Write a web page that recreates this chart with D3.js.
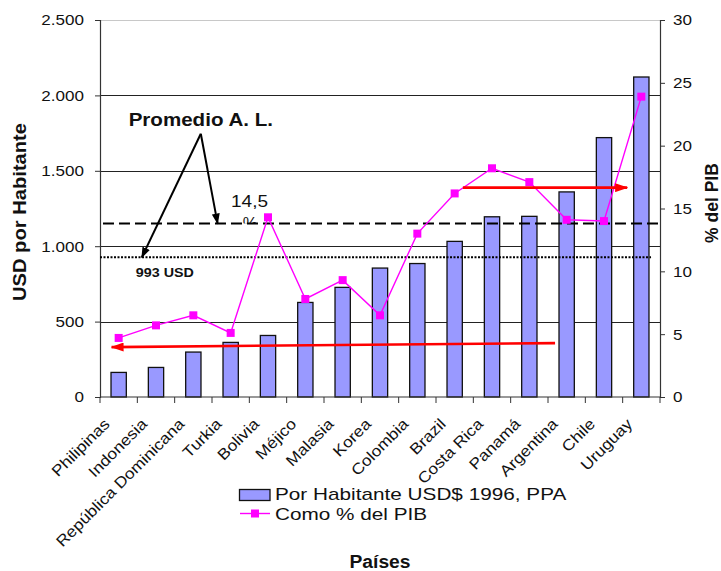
<!DOCTYPE html>
<html>
<head>
<meta charset="utf-8">
<script src="https://cdn.jsdelivr.net/npm/d3@7"></script>
<style>
html,body{margin:0;padding:0;background:#fff;}
svg{display:block;font-family:"Liberation Sans",Arial,sans-serif;}
</style>
</head>
<body>
<svg id="chart" width="721" height="571"></svg>
<script>
// ---------- data ----------
const countries = ["Philipinas","Indonesia","República Dominicana","Turkia","Bolivia","Méjico","Malasia","Korea","Colombia","Brazil","Costa Rica","Panamá","Argentina","Chile","Uruguay"];
const usdPerCapita = [163,196,298,362,408,627,727,855,885,1032,1195,1198,1360,1720,2122];
const pctPIB = [4.7,5.7,6.5,5.1,14.3,7.8,9.3,6.5,13.0,16.2,18.2,17.1,14.1,14.0,23.9];
const usdTicks = [0,500,1000,1500,2000,2500];
const pctTicks = [0,5,10,15,20,25,30];
const avgUsdLevel = 926;   // dotted line (left axis)
const avgPctLevel = 13.8;  // dashed line (right axis)
const seriesNames = ["Por Habitante USD$ 1996, PPA","Como % del PIB"];
const axisTitles = {left:"USD por Habitante", right:"% del PIB", bottom:"Países"};
// annotation anchors in (category units, axis value)
const promedioLabel = {text:"Promedio A. L.", u:2.7, usd:1794};
const promedioApex = {u:2.7, usd:1746};
const promedioTipUsd = {u:1.12};
const promedioTipPct = {u:3.15};
const pctLabel = {text:"14,5", u:3.51, pct:15.1};
const usdLabel = {text:"993 USD", u:0.96, usd:798};
const redArrowLow = {from:[12.19,4.29], to:[0.31,3.97]};
const redArrowHigh = {from:[9.72,16.66], to:[14.12,16.66]};

// ---------- layout ----------
const L = 100, R = 660, T = 20, B = 397;
const svg = d3.select("#chart");
const x = d3.scaleBand().domain(countries).range([L, R]).padding(0);
const xu = d3.scaleLinear().domain([0, countries.length]).range([L, R]);
const yL = d3.scaleLinear().domain([0, 2500]).range([B, T]);
const yR = d3.scaleLinear().domain([0, 30]).range([B, T]);
const fmt = d3.formatLocale({decimal:",", thousands:".", grouping:[3], currency:["",""]}).format(",");

function stretch(sel, k){
  sel.each(function(){
    const len = this.getComputedTextLength();
    this.setAttribute("textLength", len*k);
    this.setAttribute("lengthAdjust","spacingAndGlyphs");
  });
}

const defs = svg.append("defs");
defs.append("marker").attr("id","redHead").attr("markerUnits","userSpaceOnUse")
  .attr("markerWidth",13).attr("markerHeight",9).attr("refX",12).attr("refY",4.5).attr("orient","auto")
  .append("path").attr("d","M0,0 L13,4.5 L0,9 Z").attr("fill","#ff0000");
defs.append("marker").attr("id","blackHead").attr("markerUnits","userSpaceOnUse")
  .attr("markerWidth",11).attr("markerHeight",8).attr("refX",10).attr("refY",4).attr("orient","auto")
  .append("path").attr("d","M0,0 L11,4 L0,8 Z").attr("fill","#000");
defs.append("clipPath").attr("id","pctClip").append("rect")
  .attr("x", 0).attr("y", 0).attr("width", 721).attr("height", yR(avgPctLevel));

// gridlines
svg.append("g").selectAll("line").data(usdTicks.filter(d => d > 0))
  .join("line")
  .attr("x1", L).attr("x2", R)
  .attr("y1", d => Math.round(yL(d)) + 0.5).attr("y2", d => Math.round(yL(d)) + 0.5)
  .attr("stroke", d => d === 2500 ? "#c8c8c8" : "#222").attr("stroke-width", 1);

// bars
const bw = x.bandwidth()*0.41;
svg.append("g").selectAll("rect").data(countries)
  .join("rect")
  .attr("x", d => x(d) + (x.bandwidth()-bw)/2)
  .attr("width", bw)
  .attr("y", (d,i) => yL(usdPerCapita[i]))
  .attr("height", (d,i) => B - yL(usdPerCapita[i]))
  .attr("fill", "#9999ff").attr("stroke", "#111").attr("stroke-width", 1.3);

// axes
const gl = svg.append("g").attr("transform", `translate(${L},0)`)
  .call(d3.axisLeft(yL).tickValues(usdTicks).tickFormat(fmt).tickSize(5).tickPadding(11));
const gr = svg.append("g").attr("transform", `translate(${R},0)`)
  .call(d3.axisRight(yR).tickValues(pctTicks).tickSize(5).tickPadding(8));
[gl, gr].forEach(g => {
  g.select(".domain").attr("stroke", "#333").attr("stroke-width", 1.2);
  g.selectAll(".tick line").attr("stroke", "#333");
  g.selectAll("text").attr("font-size", 15.5).attr("fill", "#111")
    .attr("font-family", "'Liberation Sans',Arial,sans-serif").call(stretch, 1.1);
});

// bottom axis
const gb = svg.append("g");
gb.append("line").attr("x1", L).attr("x2", R).attr("y1", B).attr("y2", B)
  .attr("stroke", "#333").attr("stroke-width", 1.2);
gb.selectAll("line.t").data(d3.range(countries.length + 1)).join("line").attr("class","t")
  .attr("x1", d => xu(d)).attr("x2", d => xu(d)).attr("y1", B).attr("y2", B + 6)
  .attr("stroke", "#333");
gb.selectAll("g.lab").data(countries).join("g").attr("class","lab")
  .attr("transform", d => `translate(${x(d) + x.bandwidth()/2},${B})`)
  .append("text")
  .attr("transform", "translate(-8,28) rotate(-45)")
  .attr("text-anchor", "end").attr("font-size", 15.5).attr("fill", "#111")
  .text(d => d).call(stretch, 1.12);

// reference lines
svg.append("line")
  .attr("x1", xu(0.08)).attr("x2", xu(15.08))
  .attr("y1", yR(avgPctLevel)).attr("y2", yR(avgPctLevel))
  .attr("stroke", "#000").attr("stroke-width", 2).attr("stroke-dasharray", "11,5");
svg.append("line")
  .attr("x1", xu(0)).attr("x2", xu(14.76))
  .attr("y1", yL(avgUsdLevel)).attr("y2", yL(avgUsdLevel))
  .attr("stroke", "#000").attr("stroke-width", 2).attr("stroke-dasharray", "2,1.5");

// percent line
const cx = d => x(d) + x.bandwidth()/2;
svg.append("path").datum(countries)
  .attr("d", d3.line().x(d => cx(d)).y((d,i) => yR(pctPIB[i])))
  .attr("fill", "none").attr("stroke", "#ff00ff").attr("stroke-width", 1.4);
svg.append("g").selectAll("rect").data(countries).join("rect")
  .attr("x", d => cx(d) - 4).attr("y", (d,i) => yR(pctPIB[i]) - 4)
  .attr("width", 8).attr("height", 8).attr("fill", "#ff00ff");

// annotations
svg.append("text").attr("x", xu(promedioLabel.u)).attr("y", yL(promedioLabel.usd))
  .attr("text-anchor", "middle").attr("font-weight", "bold").attr("font-size", 18.7)
  .attr("fill", "#111").text(promedioLabel.text).call(stretch, 1.1);
svg.append("line")
  .attr("x1", xu(promedioApex.u)).attr("y1", yL(promedioApex.usd))
  .attr("x2", xu(promedioTipUsd.u)).attr("y2", yL(avgUsdLevel))
  .attr("stroke", "#000").attr("stroke-width", 2).attr("marker-end", "url(#blackHead)");
svg.append("line")
  .attr("x1", xu(promedioApex.u)).attr("y1", yL(promedioApex.usd))
  .attr("x2", xu(promedioTipPct.u)).attr("y2", yR(avgPctLevel))
  .attr("stroke", "#000").attr("stroke-width", 2).attr("marker-end", "url(#blackHead)");
svg.append("text").attr("x", xu(pctLabel.u)).attr("y", yR(pctLabel.pct))
  .attr("font-size", 16.5).attr("fill", "#111").text(pctLabel.text).call(stretch, 1.15);
svg.append("text").attr("x", xu(pctLabel.u) + 19).attr("y", yR(pctLabel.pct) + 22)
  .attr("text-anchor", "middle").attr("clip-path", "url(#pctClip)")
  .attr("font-size", 16.5).attr("fill", "#111").text("%");
svg.append("text").attr("x", xu(usdLabel.u)).attr("y", yL(usdLabel.usd))
  .attr("font-weight", "bold").attr("font-size", 13).attr("fill", "#111")
  .text(usdLabel.text).call(stretch, 1.1);

// red arrows
[redArrowLow, redArrowHigh].forEach(a => {
  svg.append("line")
    .attr("x1", xu(a.from[0])).attr("y1", yR(a.from[1]))
    .attr("x2", xu(a.to[0])).attr("y2", yR(a.to[1]))
    .attr("stroke", "#ff0000").attr("stroke-width", 2.6).attr("marker-end", "url(#redHead)");
});

// axis titles
svg.append("text").attr("transform", "translate(26,212) rotate(-90)")
  .attr("text-anchor", "middle").attr("font-weight", "bold").attr("font-size", 18)
  .attr("fill", "#111").text(axisTitles.left).call(stretch, 1.12);
svg.append("text").attr("transform", "translate(718,203) rotate(-90)")
  .attr("text-anchor", "middle").attr("font-weight", "bold").attr("font-size", 17.5)
  .attr("fill", "#111").text(axisTitles.right);
svg.append("text").attr("x", 380).attr("y", 568)
  .attr("text-anchor", "middle").attr("font-weight", "bold").attr("font-size", 17.5)
  .attr("fill", "#111").text(axisTitles.bottom).call(stretch, 1.1);

// legend
const lg = svg.append("g");
lg.append("rect").attr("x", 239.5).attr("y", 489.5).attr("width", 30.5).attr("height", 11)
  .attr("fill", "#9999ff").attr("stroke", "#111").attr("stroke-width", 1.3);
lg.append("text").attr("x", 275).attr("y", 500).attr("font-size", 17).attr("fill", "#111")
  .text(seriesNames[0]).call(stretch, 1.22);
lg.append("line").attr("x1", 240).attr("x2", 270).attr("y1", 513.5).attr("y2", 513.5)
  .attr("stroke", "#ff00ff").attr("stroke-width", 1.4);
lg.append("rect").attr("x", 251).attr("y", 509.5).attr("width", 8).attr("height", 8).attr("fill", "#ff00ff");
lg.append("text").attr("x", 275).attr("y", 520).attr("font-size", 17).attr("fill", "#111")
  .text(seriesNames[1]).call(stretch, 1.22);
</script>
</body>
</html>
